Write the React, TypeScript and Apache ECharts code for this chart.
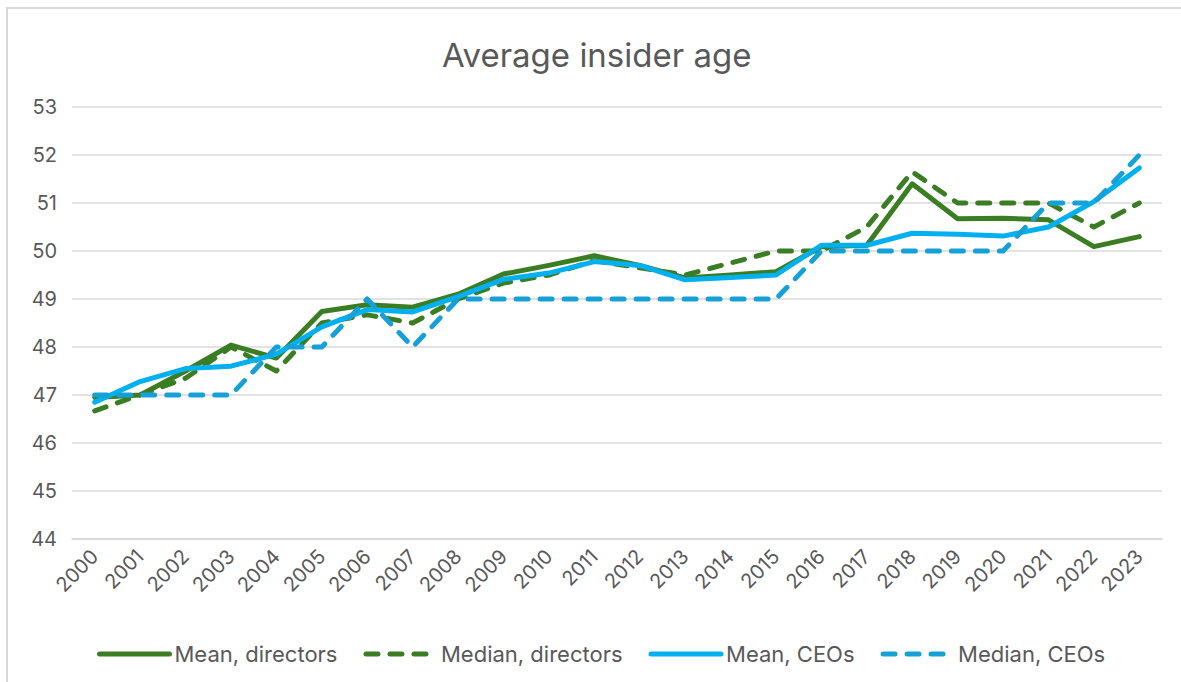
import React, { useEffect, useRef } from "react";
import * as echarts from "echarts";

const years = ["2000","2001","2002","2003","2004","2005","2006","2007","2008","2009","2010","2011","2012","2013","2014","2015","2016","2017","2018","2019","2020","2021","2022","2023"];
const meanDirectors = [46.95, 47.0, 47.5, 48.04, 47.77, 48.74, 48.88, 48.83, 49.1, 49.52, 49.7, 49.9, 49.7, 49.44, 49.5, 49.57, 50.09, 50.12, 51.4, 50.67, 50.68, 50.65, 50.09, 50.3];
const medianDirectors = [46.67, 47.0, 47.35, 48.0, 47.5, 48.5, 48.67, 48.5, 49.0, 49.33, 49.5, 49.8, 49.65, 49.5, 49.75, 50.0, 50.0, 50.5, 51.65, 51.0, 51.0, 51.0, 50.5, 51.0];
const meanCEOs = [46.85, 47.28, 47.55, 47.6, 47.85, 48.42, 48.78, 48.73, 49.05, 49.41, 49.54, 49.78, 49.7, 49.4, 49.45, 49.5, 50.12, 50.12, 50.37, 50.35, 50.31, 50.5, 51.03, 51.73];
const medianCEOs = [47, 47, 47, 47, 48, 48, 49, 48, 49, 49, 49, 49, 49, 49, 49, 49, 50, 50, 50, 50, 50, 51, 51, 52];

const GREEN = "#3B7D23";
const BLUE = "#00B0F0";
const BLUE_D = "#16A0D8";
const FONT = "Inter";

export default function App() {
  const ref = useRef<HTMLDivElement>(null);
  useEffect(() => {
    document.body.style.overflow = "hidden";
    const chart = echarts.init(ref.current!, null, { renderer: "svg" });
    const mk = (name: string, data: number[], color: string, dashed: boolean) => ({
      name,
      type: "line",
      data,
      symbol: "none",
      showSymbol: false,
      lineStyle: { color, width: 5, type: dashed ? [12, 12] : "solid", cap: "round", join: "round" },
      itemStyle: { color },
    });
    chart.setOption({
      animation: false,
      textStyle: { fontFamily: FONT },
      title: {
        text: "Average insider age",
        left: 429,
        top: 24,
        textStyle: { fontFamily: FONT, fontSize: 33, fontWeight: "normal", color: "#595959" },
      },
      grid: { left: 64, top: 98, width: 1090, height: 432, containLabel: false },
      xAxis: {
        type: "category",
        data: years,
        boundaryGap: true,
        axisLine: { lineStyle: { color: "#D9D9D9", width: 1.5 } },
        axisTick: { show: false },
        axisLabel: { rotate: 45, fontSize: 20, color: "#595959", margin: 14, fontFamily: FONT, interval: 0 },
      },
      yAxis: {
        type: "value",
        min: 44,
        max: 53,
        interval: 1,
        axisLine: { show: false },
        axisTick: { show: false },
        splitLine: { lineStyle: { color: "#D9D9D9", width: 1.5 } },
        axisLabel: { fontSize: 20, color: "#595959", margin: 15, fontFamily: FONT },
      },
      legend: {
        top: 629,
        left: 84,
        itemWidth: 70,
        itemHeight: 12,
        itemGap: 26,
        itemStyle: { opacity: 0 },
        lineStyle: { width: 5 },
        textStyle: { fontSize: 22, color: "#595959", fontFamily: FONT },
        data: ["Mean, directors", "Median, directors", "Mean, CEOs", "Median, CEOs"],
      },
      series: [
        mk("Mean, directors", meanDirectors, GREEN, false),
        mk("Median, directors", medianDirectors, GREEN, true),
        mk("Mean, CEOs", meanCEOs, BLUE, false),
        mk("Median, CEOs", medianCEOs, BLUE_D, true),
      ],
    });
    return () => chart.dispose();
  }, []);
  return (
    <div
      ref={ref}
      style={{
        position: "absolute",
        left: 6,
        top: 7,
        width: 1200,
        height: 700,
        border: "2px solid #D9D9D9",
        boxSizing: "border-box",
        background: "#fff",
      }}
    />
  );
}
